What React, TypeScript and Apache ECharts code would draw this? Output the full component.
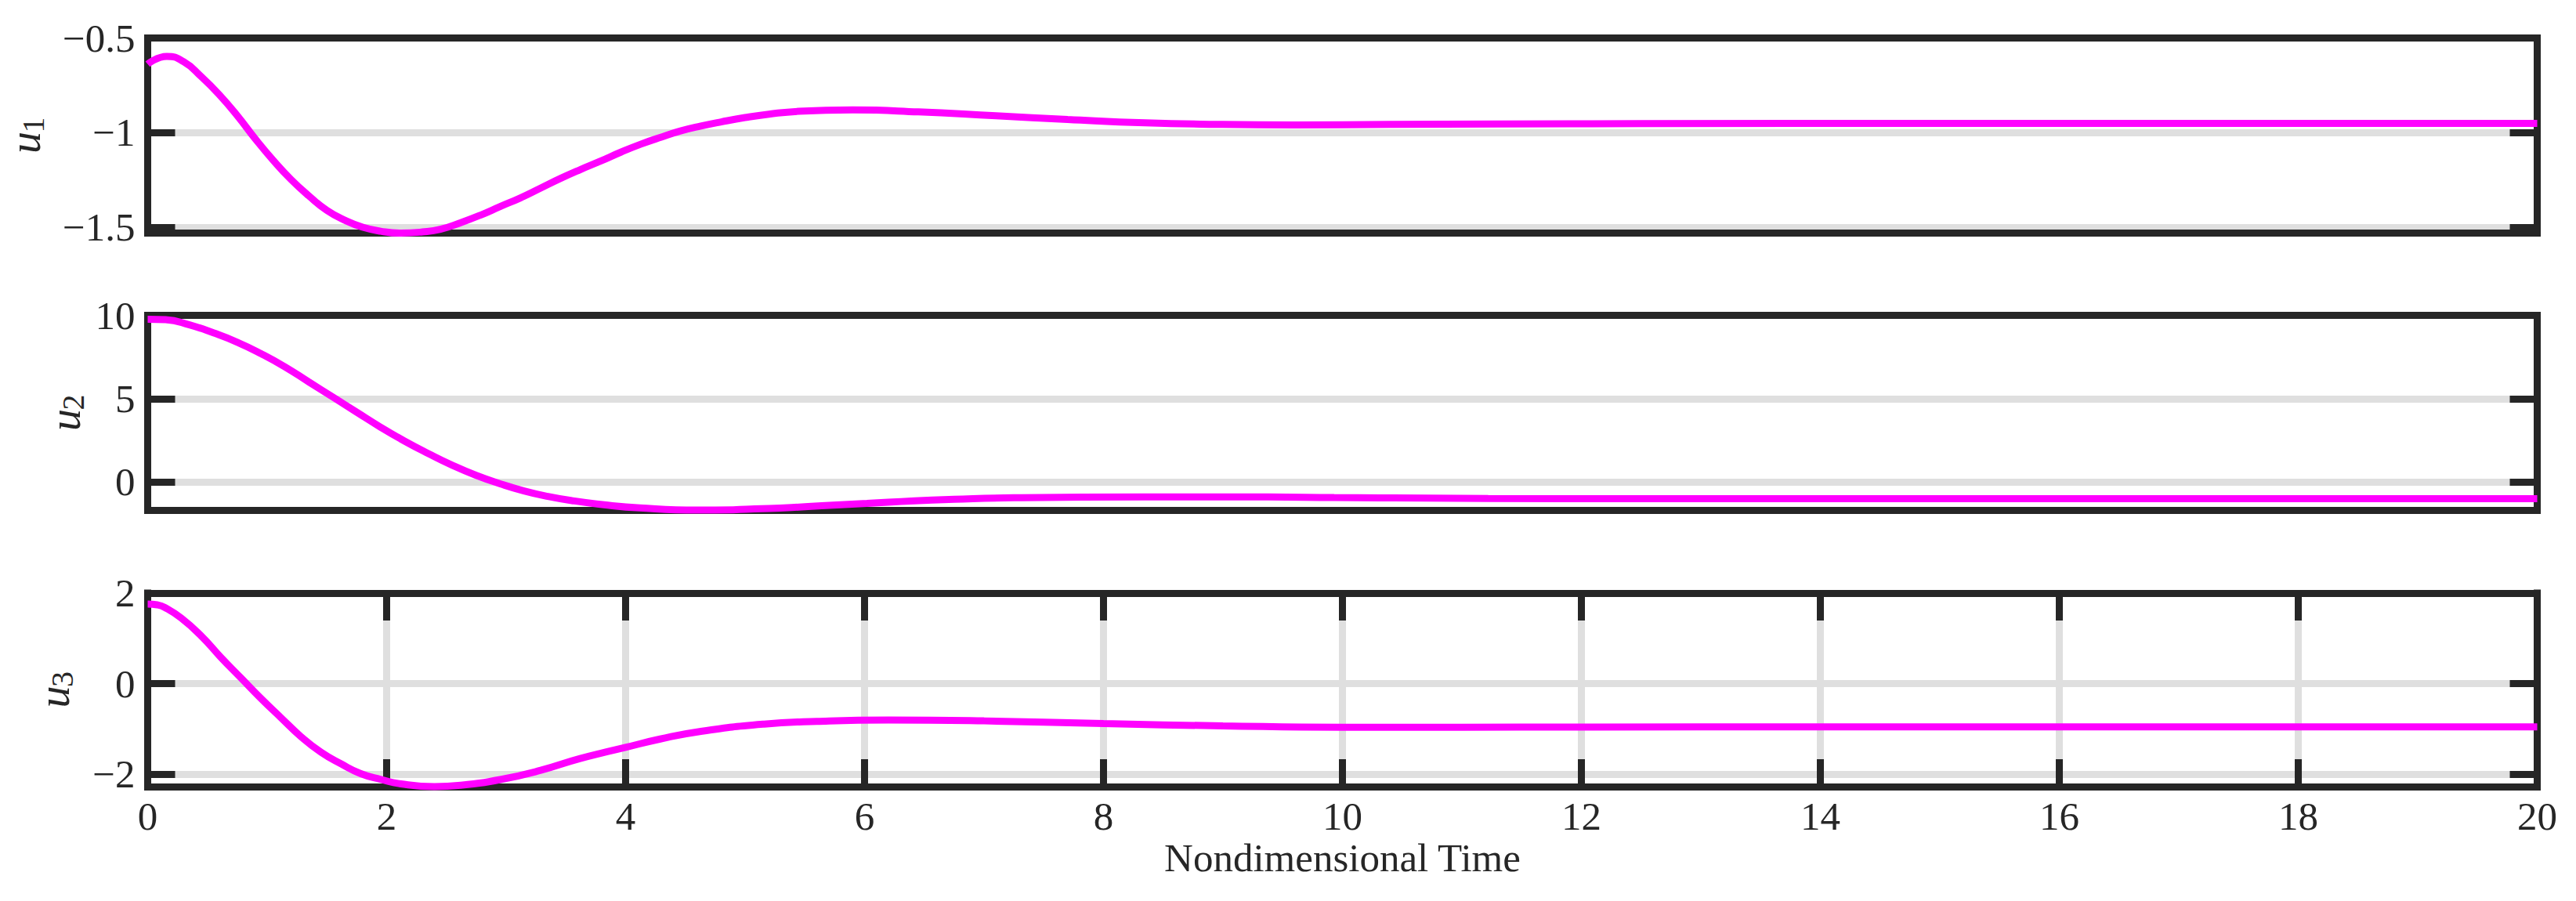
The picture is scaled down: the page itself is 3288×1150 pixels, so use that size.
import React, { useEffect, useRef } from "react";
import * as echarts from "echarts";

const FONT = '"Liberation Serif", "Times New Roman", serif';
const INK = "#262626";
const GRID_GRAY = "#dfdfdf";
const LINE_COLOR = "#ff00ff";

// x axis (shared)
const T_MIN = 0;
const T_MAX = 20;
const T_STEP = 2;
const X_TITLE = "Nondimensional Time";

// panel y-limits and tick steps
const Y_MINS = [-1.53, -1.7, -2.27];
const Y_MAXS = [-0.5, 10, 2];
const Y_STEPS = [0.5, 5, 2];
const Y_SUBSCRIPTS = ["1", "2", "3"];

// u1
const u1T = [0, 0.16, 0.3, 0.45, 0.6, 0.75, 0.9, 1.05, 1.2, 1.35, 1.5, 1.65, 1.8, 1.95, 2.12, 2.3, 2.45, 2.62, 2.79, 2.95, 3.12, 3.29, 3.46, 3.62, 3.79, 3.96, 4.13, 4.3, 4.46, 4.63, 4.8, 5.0, 5.2, 5.45, 5.9, 6.45, 7.1, 7.7, 8.35, 8.95, 9.6, 10.4, 11.3, 12.5, 15, 20];
const u1V = [-0.638, -0.597, -0.625, -0.705, -0.8, -0.91, -1.032, -1.145, -1.247, -1.334, -1.41, -1.462, -1.499, -1.52, -1.53, -1.524, -1.51, -1.475, -1.434, -1.39, -1.344, -1.292, -1.24, -1.195, -1.15, -1.103, -1.06, -1.023, -0.991, -0.965, -0.943, -0.92, -0.902, -0.887, -0.88, -0.89, -0.911, -0.93, -0.948, -0.956, -0.959, -0.956, -0.954, -0.952, -0.951, -0.951];

// u2
const u2T = [0, 0.15, 0.35, 0.55, 0.75, 0.95, 1.15, 1.35, 1.55, 1.75, 1.95, 2.15, 2.35, 2.55, 2.75, 2.95, 3.15, 3.35, 3.55, 3.82, 4.12, 4.6, 4.9, 5.08, 5.39, 5.64, 6.02, 6.42, 6.75, 7.25, 8.34, 9.38, 9.93, 10.7, 11.22, 12.5, 15, 17.5, 20];
const u2V = [9.77, 9.74, 9.43, 8.95, 8.39, 7.7, 6.91, 6.0, 5.1, 4.19, 3.29, 2.46, 1.71, 1.01, 0.4, -0.1, -0.53, -0.86, -1.11, -1.36, -1.55, -1.68, -1.66, -1.61, -1.52, -1.42, -1.28, -1.12, -1.03, -0.94, -0.89, -0.89, -0.93, -0.96, -0.98, -1.0, -1.0, -1.0, -1.0];

// u3
const u3T = [0, 0.08, 0.145, 0.28, 0.45, 0.61, 0.78, 0.95, 1.12, 1.28, 1.45, 1.62, 1.78, 1.95, 2.12, 2.4, 2.62, 2.96, 3.29, 3.62, 4.0, 4.29, 4.63, 5.16, 5.6, 6.2, 7.0, 8.0, 9.0, 10.0, 11, 12, 14, 17, 20];
const u3V = [1.76, 1.74, 1.68, 1.45, 1.05, 0.59, 0.13, -0.33, -0.76, -1.16, -1.51, -1.77, -1.98, -2.11, -2.21, -2.27, -2.24, -2.11, -1.91, -1.65, -1.405, -1.22, -1.05, -0.89, -0.83, -0.8, -0.82, -0.88, -0.93, -0.96, -0.96, -0.955, -0.95, -0.95, -0.95];

const SERIES_T = [u1T, u2T, u3T];
const SERIES_V = [u1V, u2V, u3V];

// layout (pixels)
const GRID_LEFT = 188.5;
const GRID_RIGHT = 49.5;
const GRID_TOPS = [48.5, 402.5, 757];
const GRID_HEIGHTS = [249, 249, 247];
const YLABEL_X = [38, 89, 75];

const fmtY = (step: number) => (v: number) => {
  const r = Math.round(v / step);
  if (Math.abs(v / step - r) > 1e-6) return "";
  const n = +(r * step).toFixed(3);
  const s = String(Math.abs(n));
  return n < 0 ? "\u2212" + s : s;
};

const lineStyleInk = { color: INK, width: 9, cap: "square" };

export default function App() {
  const ref = useRef<HTMLDivElement>(null);

  useEffect(() => {
    if (!ref.current) return;
    const chart = echarts.init(ref.current, undefined, { renderer: "svg" });

    const grid: any[] = [];
    const xAxis: any[] = [];
    const yAxis: any[] = [];
    const series: any[] = [];
    const graphic: any[] = [];

    for (let g = 0; g < 3; g++) {
      const last = g === 2;
      grid.push({
        left: GRID_LEFT,
        right: GRID_RIGHT,
        top: GRID_TOPS[g],
        height: GRID_HEIGHTS[g],
        containLabel: false,
        outerBoundsMode: "none",
        show: false,
      });
      const xb = { gridIndex: g, type: "value", min: T_MIN, max: T_MAX, interval: T_STEP };
      const tickX = { show: last, inside: true, length: 35, lineStyle: { color: INK, width: 9 } };
      xAxis.push(
        {
          ...xb,
          position: "bottom",
          z: 3,
          axisLine: { show: true, onZero: false, lineStyle: lineStyleInk },
          axisTick: tickX,
          axisLabel: {
            show: last,
            margin: 16,
            color: INK,
            fontFamily: FONT,
            fontSize: 51,
            lineHeight: 44,
            formatter: (v: number) => String(v),
          },
          splitLine: { show: false },
        },
        {
          ...xb,
          position: "top",
          z: 3,
          axisLine: { show: true, onZero: false, lineStyle: lineStyleInk },
          axisTick: tickX,
          axisLabel: { show: false },
          splitLine: { show: false },
        },
        {
          ...xb,
          position: "bottom",
          z: 1,
          axisLine: { show: false, onZero: false },
          axisTick: { show: false },
          axisLabel: { show: false },
          splitLine: { show: last, lineStyle: { color: GRID_GRAY, width: 9 } },
        }
      );
      const yb = {
        gridIndex: g,
        type: "value",
        min: Y_MINS[g],
        max: Y_MAXS[g],
        minInterval: Y_STEPS[g],
        maxInterval: Y_STEPS[g],
      };
      const tickY = { show: true, inside: true, length: 35, lineStyle: { color: INK, width: 9 } };
      yAxis.push(
        {
          ...yb,
          position: "left",
          z: 3,
          axisLine: { show: true, onZero: false, lineStyle: lineStyleInk },
          axisTick: tickY,
          axisLabel: {
            show: true,
            margin: 16,
            color: INK,
            fontFamily: FONT,
            fontSize: 51,
            lineHeight: 44,
            showMinLabel: false,
            showMaxLabel: true,
            formatter: fmtY(Y_STEPS[g]),
          },
          splitLine: { show: false },
        },
        {
          ...yb,
          position: "right",
          z: 3,
          axisLine: { show: true, onZero: false, lineStyle: lineStyleInk },
          axisTick: tickY,
          axisLabel: { show: false },
          splitLine: { show: false },
        },
        {
          ...yb,
          position: "left",
          z: 1,
          axisLine: { show: false, onZero: false },
          axisTick: { show: false },
          axisLabel: { show: false },
          splitLine: { show: true, lineStyle: { color: GRID_GRAY, width: 9 } },
        }
      );
      series.push({
        type: "line",
        xAxisIndex: g * 3,
        yAxisIndex: g * 3,
        data: SERIES_T[g].map((t, i) => [t, SERIES_V[g][i]]),
        showSymbol: false,
        symbol: "none",
        smooth: 0.5,
        clip: false,
        z: 10,
        lineStyle: { color: LINE_COLOR, width: 9 },
      });
      const gy = GRID_TOPS[g] + GRID_HEIGHTS[g] / 2 + 1.5;
      graphic.push({
        type: "group",
        x: YLABEL_X[g],
        y: gy,
        rotation: Math.PI / 2,
        children: [
          {
            type: "text",
            x: -7.5,
            y: -6,
            style: {
              text: "u",
              fontFamily: FONT,
              fontStyle: "italic",
              fontSize: 56,
              fill: INK,
              align: "center",
              verticalAlign: "middle",
              textAlign: "center",
              textVerticalAlign: "middle",
            },
          },
          {
            type: "text",
            x: 15,
            y: 4.5,
            style: {
              text: Y_SUBSCRIPTS[g],
              fontFamily: FONT,
              fontSize: 40,
              fill: INK,
              align: "center",
              verticalAlign: "middle",
              textAlign: "center",
              textVerticalAlign: "middle",
            },
          },
        ],
      });
    }

    graphic.push({
      type: "text",
      x: (GRID_LEFT + (3288 - GRID_RIGHT)) / 2,
      y: 1095,
      style: {
        text: X_TITLE,
        fontFamily: FONT,
        fontSize: 51,
        lineHeight: 40,
        fill: INK,
        align: "center",
        verticalAlign: "middle",
        textAlign: "center",
        textVerticalAlign: "middle",
      },
    });

    chart.setOption({
      animation: false,
      backgroundColor: "#ffffff",
      grid,
      xAxis,
      yAxis,
      series,
      graphic,
    });

    return () => chart.dispose();
  }, []);

  return (
    <div
      ref={ref}
      style={{ position: "absolute", left: 0, top: 0, width: 3288, height: 1150 }}
    />
  );
}
